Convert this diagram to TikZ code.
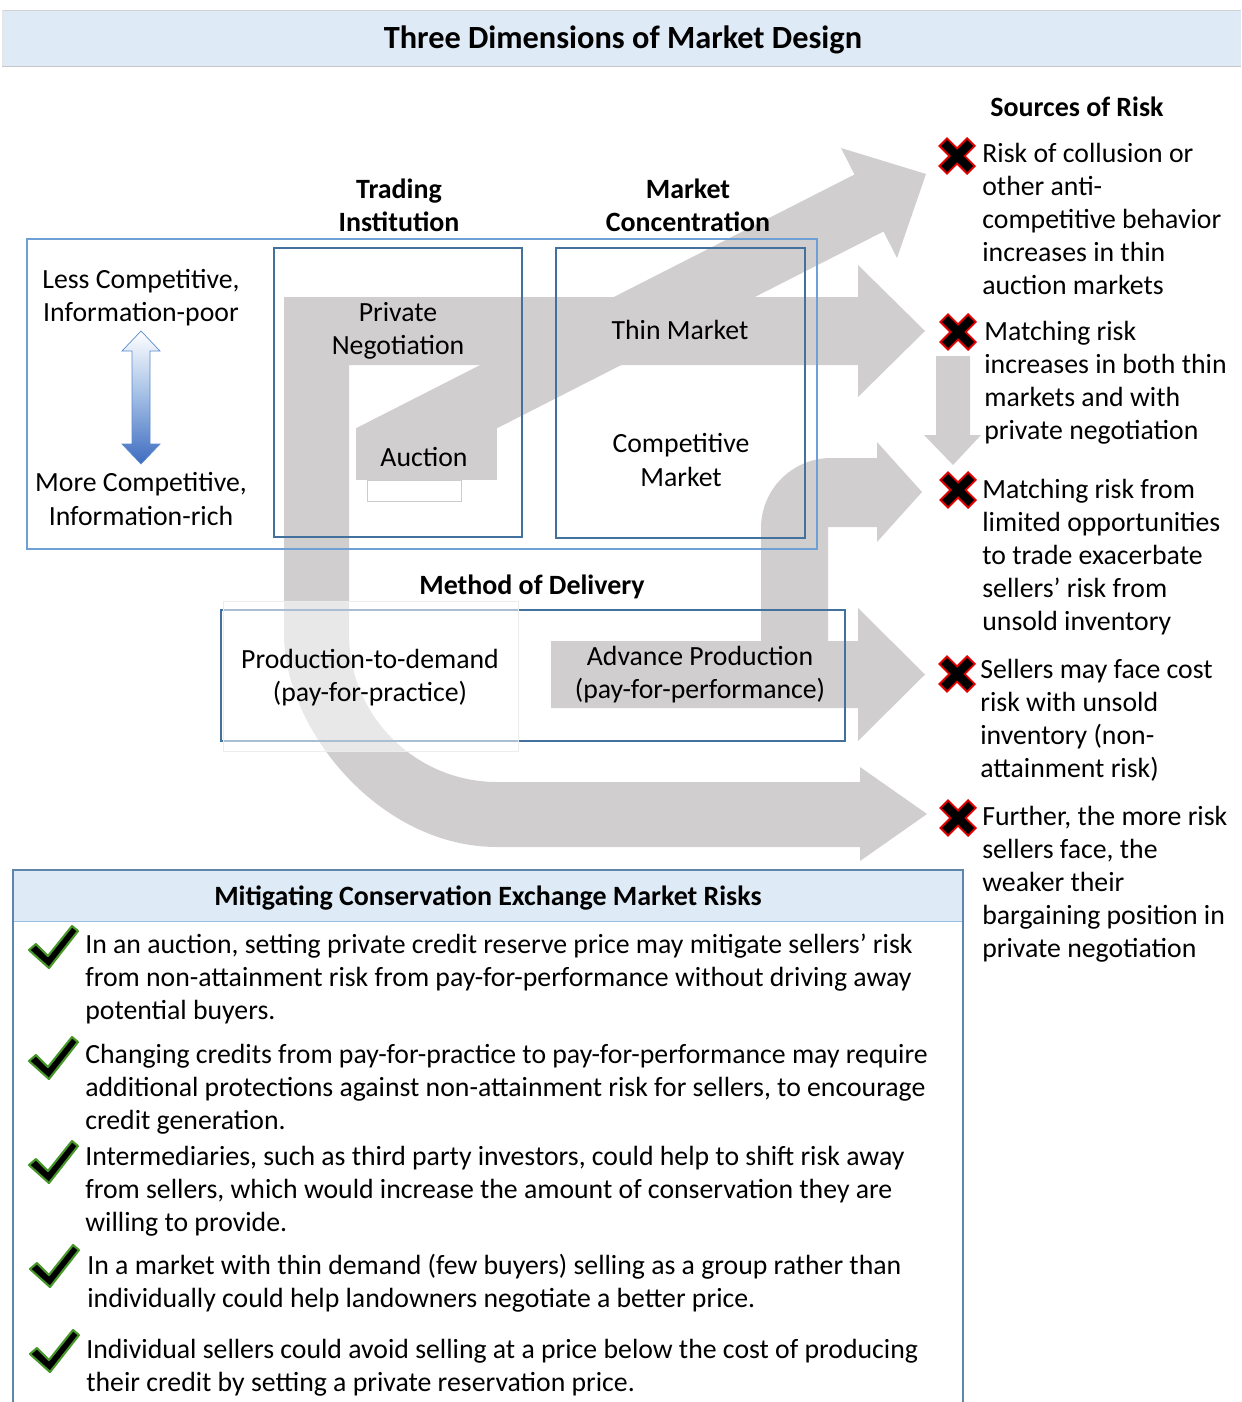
\documentclass[tikz,border=0pt]{standalone}
\usepackage{fontspec}
\setmainfont{Carlito}
\usepackage{tikz}
\usetikzlibrary{positioning}
\definecolor{arrowgray}{RGB}{208,206,206}
\definecolor{boxblue}{RGB}{65,113,156}
\definecolor{lightblue}{RGB}{110,160,212}
\definecolor{bannerblue}{RGB}{222,234,246}
\definecolor{checkgreen}{RGB}{70,150,40}
\definecolor{crossred}{RGB}{225,0,0}
\newcommand\bodyfont{\fontsize{15.8pt}{18.8pt}\selectfont}
\newcommand\headfont{\fontsize{15.9pt}{18.8pt}\selectfont\bfseries}
\newcommand\riskmark[1]{
\begin{scope}[shift={#1}]
\draw[crossred, line width=0.25cm] (-14.5,-14.5) -- (14.5,14.5) (-14.5,14.5) -- (14.5,-14.5);
\draw[black, line width=0.17cm] (-13,-13) -- (13,13) (-13,13) -- (13,-13);
\end{scope}}
\newcommand\goodmark[1]{
\filldraw[shift={#1}, fill=black, draw=checkgreen, line width=1.2pt, line join=round]
(-25,3) -- (-18,-3) -- (-6,9) -- (18,-21) -- (24,-16) -- (-5,21) -- cycle;}

\begin{document}
\begin{tikzpicture}[x=0.02cm, y=-0.02cm,
  every node/.style={inner sep=0pt, font=\bodyfont},
  blockarrow/.style={fill=arrowgray},
  dimbox/.style={draw=boxblue, line width=1.2pt},
  outerbox/.style={draw=lightblue, line width=1.1pt},
  heading/.style={font=\headfont, align=center},
  dimtext/.style={align=center},
  risktext/.style={anchor=north west, align=left},
  mitigtext/.style={anchor=north west, align=left}]
\useasboundingbox (0,0) rectangle (1241,1402);

\fill[bannerblue] (2,10) rectangle (1241,66);
\draw[gray!35] (2,10) -- (1241,10);
\draw[gray!45] (2,66) -- (1241,66);
\draw[gray!20] (2,10) -- (2,66);
\node[heading, font=\fontsize{18.4pt}{21pt}\selectfont\bfseries] (title) at (623,40) {Three Dimensions of Market Design};

\fill[blockarrow] (356.5,428) -- (854.5,174.5) -- (841,148) -- (926,174) -- (897,258) -- (883.5,231.5) -- (497.5,428) -- cycle;
\fill[blockarrow] (356,428) rectangle (497,480);
\fill[blockarrow] (284,297) -- (858,297) -- (858,265) -- (925,331) -- (858,397) -- (858,365) -- (284,365) -- cycle;
\fill[blockarrow] (284,297) -- (349,297) -- (349,634) .. controls (349,715.7) and (415.3,782) .. (497,782)
  -- (860,782) -- (860,767) -- (927,814) -- (860,861) -- (860,847) -- (497,847)
  .. controls (379.4,847) and (284,729.4) .. (284,634) -- cycle;
\fill[blockarrow] (761,641) -- (761,528) .. controls (761,489.4) and (792.4,458) .. (831,458)
  -- (877,458) -- (877,442) -- (922,492) -- (877,542) -- (877,527) -- (828,527) -- (828,641) -- cycle;
\fill[blockarrow] (551,641) -- (858,641) -- (858,608) -- (925,674.5) -- (858,741) -- (858,708) -- (551,708) -- cycle;
\fill[blockarrow] (936,356) -- (970,356) -- (970,435) -- (981,435) -- (953,465) -- (924,435) -- (936,435) -- cycle;

\draw[outerbox] (27,239) rectangle (817,549);
\draw[dimbox] (274,248) rectangle (522,537);
\draw[dimbox] (556,248) rectangle (805,538);
\draw[dimbox] (221,610) rectangle (845,741);
\filldraw[fill=white, fill opacity=0.55, draw=gray!15] (223,601) rectangle (518,751);
\filldraw[fill=white, draw=gray!40] (367,480) rectangle (461,501);

\shadedraw[top color=white, bottom color={rgb,255:red,62;green,108;blue,192}, middle color={rgb,255:red,160;green,188;blue,228}, draw={rgb,255:red,91;green,140;blue,206}]
  (141,331) -- (160,351) -- (150,351) -- (150,444) -- (160,444) -- (141,464) -- (122,444) -- (132,444) -- (132,351) -- (122,351) -- cycle;

\node[heading] (trading) at (399,205) {Trading\\Institution};
\node[heading] (concentration) at (688,205) {Market\\Concentration};
\node[heading] (sources) at (1077,107) {Sources of Risk};
\node[heading] (delivery) at (532,587) {Method of Delivery};
\node[dimtext] (lesscomp) at (141,297.5) {Less Competitive,\\Information-poor};
\node[dimtext] (morecomp) at (141,499) {More Competitive,\\Information-rich};
\node[dimtext] (private) at (398,330.5) {Private\\Negotiation};
\node[dimtext] (auction) at (424,457) {Auction};
\node[dimtext] (thin) at (680,330) {Thin Market};
\node[dimtext] (competitive) at (681,460) {Competitive\\Market};
\node[dimtext] (demand) at (370,677.5) {Production-to-demand\\(pay-for-practice)};
\node[dimtext] (advance) at (700,674.5) {Advance Production\\(pay-for-performance)};

\riskmark{(957,156)}
\riskmark{(958,332)}
\riskmark{(958,490)}
\riskmark{(957,674)}
\riskmark{(958,818)}
\node[risktext] (risk1) at (982,142.5) {Risk of collusion or\\other anti-\\competitive behavior\\increases in thin\\auction markets};
\node[risktext] (risk2) at (984,320.5) {Matching risk\\increases in both thin\\markets and with\\private negotiation};
\node[risktext] (risk3) at (982,478.5) {Matching risk from\\limited opportunities\\to trade exacerbate\\sellers’ risk from\\unsold inventory};
\node[risktext] (risk4) at (980,658.5) {Sellers may face cost\\risk with unsold\\inventory (non-\\attainment risk)};
\node[risktext] (risk5) at (982,805.5) {Further, the more risk\\sellers face, the\\weaker their\\bargaining position in\\private negotiation};

\fill[bannerblue] (13,870) rectangle (963,921);
\draw[lightblue!70] (13,921) -- (963,921);
\draw[boxblue!85, line width=1.1pt] (13,1402) -- (13,870) -- (963,870) -- (963,1402);
\node[heading] (mitigating) at (488,898) {Mitigating Conservation Exchange Market Risks};

\goodmark{(54,947)}
\goodmark{(54,1058)}
\goodmark{(54,1162)}
\goodmark{(55,1266)}
\goodmark{(55,1351)}
\node[mitigtext] (mit1) at (85,933.5) {In an auction, setting private credit reserve price may mitigate sellers’ risk\\from non-attainment risk from pay-for-performance without driving away\\potential buyers.};
\node[mitigtext] (mit2) at (85,1043.5) {Changing credits from pay-for-practice to pay-for-performance may require\\additional protections against non-attainment risk for sellers, to encourage\\credit generation.};
\node[mitigtext] (mit3) at (85,1145.5) {Intermediaries, such as third party investors, could help to shift risk away\\from sellers, which would increase the amount of conservation they are\\willing to provide.};
\node[mitigtext] (mit4) at (87,1253.5) {In a market with thin demand (few buyers) selling as a group rather than\\individually could help landowners negotiate a better price.};
\node[mitigtext] (mit5) at (86,1338.5) {Individual sellers could avoid selling at a price below the cost of producing\\their credit by setting a private reservation price.};
\end{tikzpicture}
\end{document}
